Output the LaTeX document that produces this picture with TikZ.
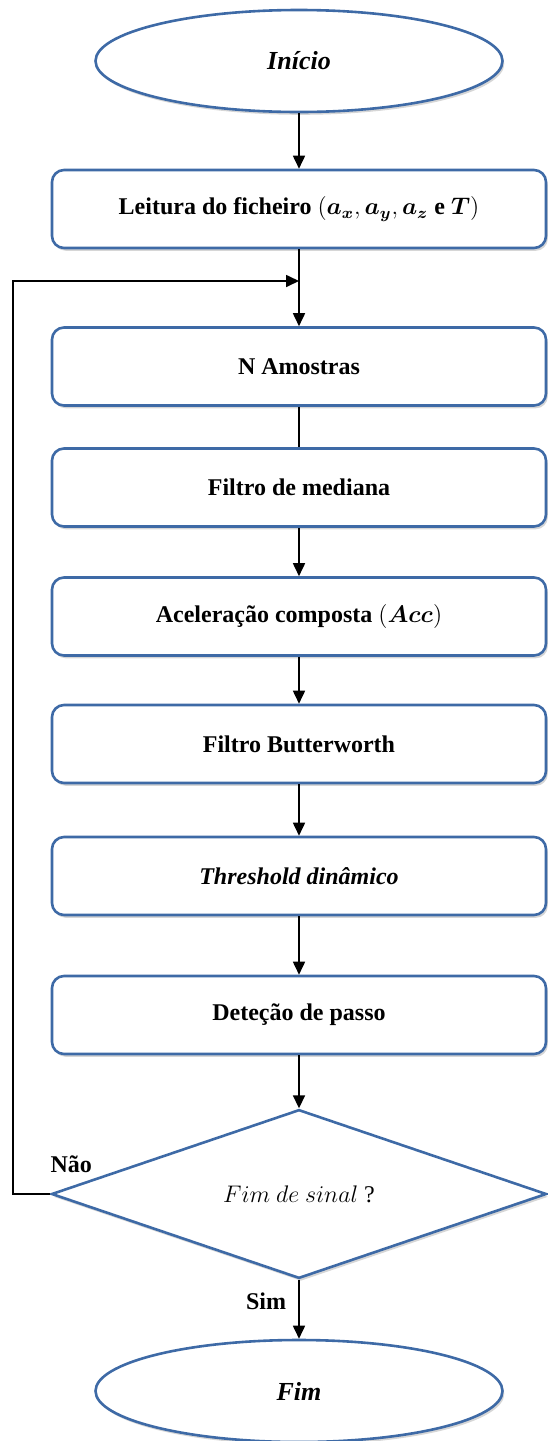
\documentclass[tikz,border=0pt,12pt]{standalone}
\usepackage{amsmath}
\usepackage{fontspec}
\setmainfont{Liberation Serif}
\usepackage{tikz}
\usetikzlibrary{shapes.geometric,arrows.meta,shadows}

\definecolor{borda}{RGB}{62,106,166}

\tikzset{
  sombra/.style={drop shadow={shadow xshift=0.9pt,shadow yshift=-1.4pt,fill=black!32}},
  caixa/.style={draw=borda, line width=1.3pt, fill=white, rounded corners=6pt,
    minimum width=247pt, minimum height=39pt, font=\bfseries, sombra},
  terminal/.style={ellipse, draw=borda, line width=1.3pt, fill=white,
    minimum width=203.5pt, minimum height=51pt, inner sep=0pt,
    font=\fontsize{13}{15}\selectfont\bfseries\itshape, sombra},
  decisao/.style={diamond, draw=borda, line width=1.3pt, fill=white,
    minimum width=247.5pt, minimum height=84pt, inner sep=0pt, sombra},
  seta/.style={-{Triangle[length=6.5pt,width=6pt]}, line width=0.85pt},
  linha/.style={line width=0.85pt},
  rotulo/.style={font=\bfseries, inner sep=0pt}
}

\begin{document}
\begin{tikzpicture}[x=0.5pt, y=-0.5pt]
\useasboundingbox (0,0) rectangle (547,1441);

\node[terminal] (ini) at (299,61) {Início};
\node[caixa] (lei) at (299,209)
  {Leitura do ficheiro $(\boldsymbol{a_x}, \boldsymbol{a_y}, \boldsymbol{a_z}$ e $\boldsymbol{T})$};
\node[caixa] (amo) at (299,366.5) {N Amostras};
\node[caixa] (med) at (299,487.5) {Filtro de mediana};
\node[caixa] (acc) at (299,616.5) {Aceleração composta $(\boldsymbol{Acc})$};
\node[caixa] (but) at (299,744) {Filtro Butterworth};
\node[caixa] (thr) at (299,876) {\itshape Threshold dinâmico};
\node[caixa] (det) at (299,1015) {Deteção de passo};
\node[decisao] (dec) at (299,1194) {$Fim\ de\ sinal$ ?};
\node[terminal] (fim) at (299,1391) {Fim};

\coordinate (volta) at (13,281);
\coordinate (junta) at (299,281);

\draw[seta] (ini) -- (lei);
\draw[seta] (lei) -- (amo);
\draw[linha] (amo) -- (med);
\draw[seta] (med) -- (acc);
\draw[seta] (acc) -- (but);
\draw[seta] (but) -- (thr);
\draw[seta] (thr) -- (det);
\draw[seta] (det) -- (dec);
\draw[seta] (dec) -- (fim) node[rotulo, pos=0.36, left=6pt] {Sim};
\draw[seta] (dec.west) -| (volta) -- (junta);

\node[rotulo, anchor=south west] (nao) at ([yshift=10.5pt]dec.west) {Não};
\end{tikzpicture}
\end{document}
